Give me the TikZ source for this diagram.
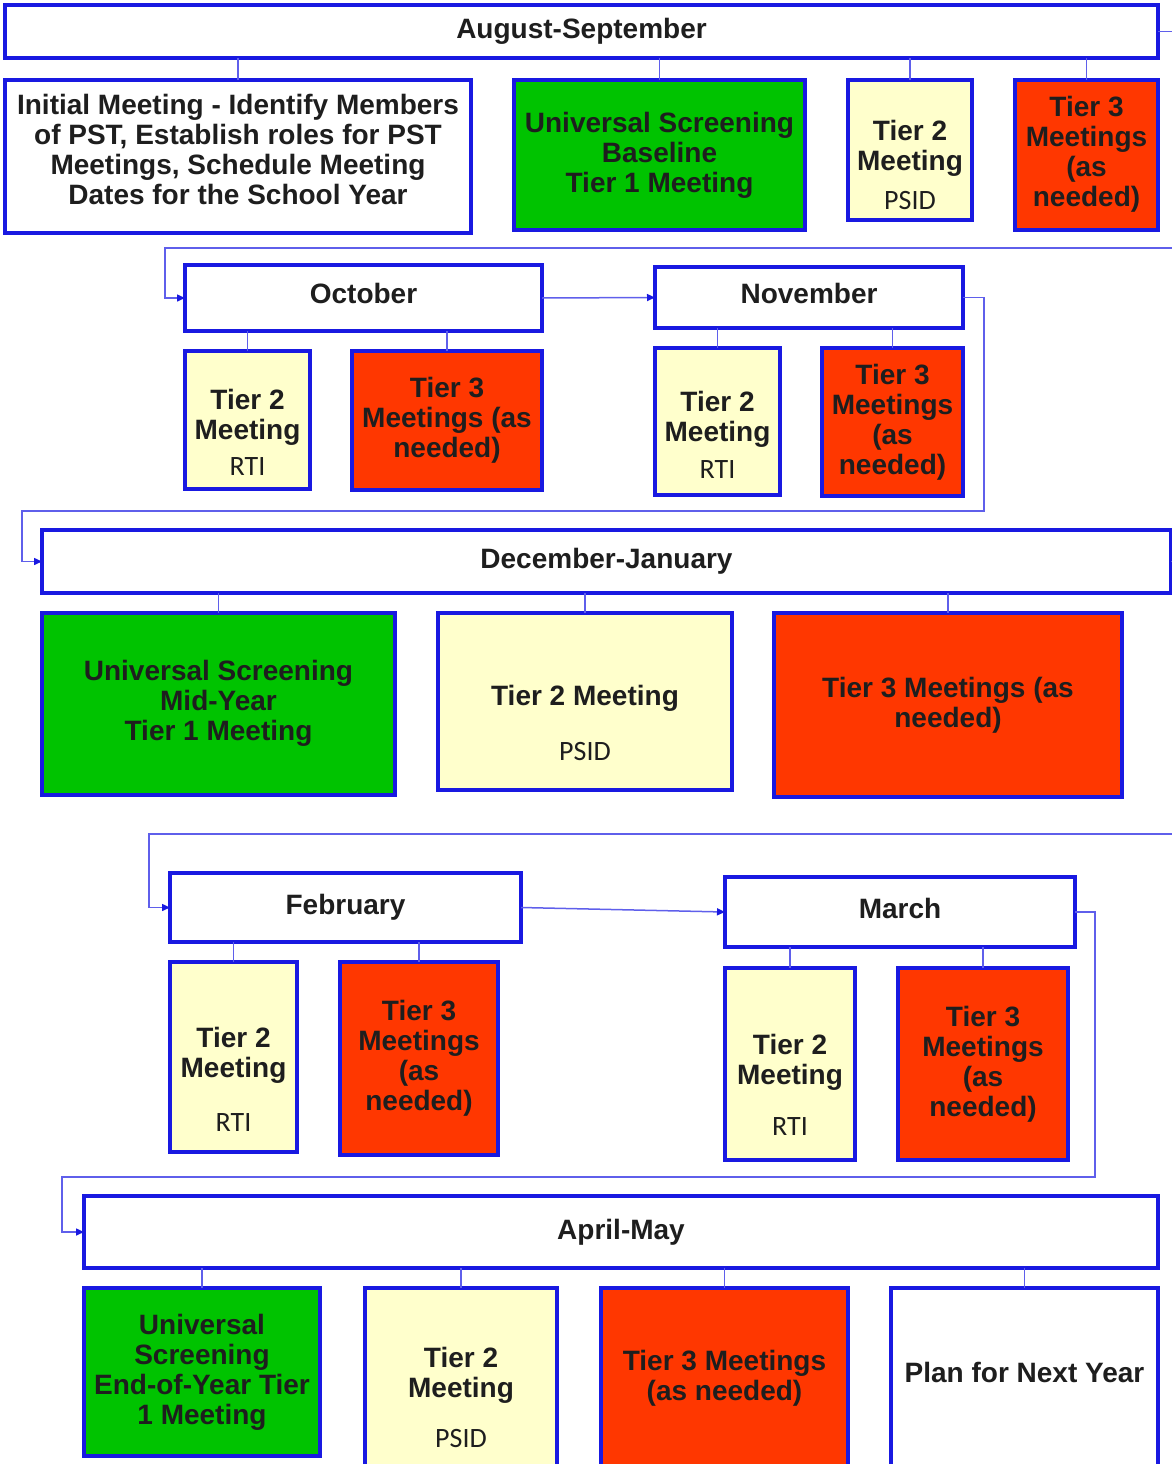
\documentclass[tikz,border=0pt]{standalone}
\usepackage{fontspec}
\setmainfont{Liberation Sans}
\newfontfamily\carlito{Carlito}
\usetikzlibrary{arrows.meta, positioning}

\definecolor{edgeblue}{RGB}{25,25,225}
\definecolor{linkblue}{RGB}{95,95,235}
\definecolor{tiergreen}{RGB}{0,195,0}
\definecolor{tieryellow}{RGB}{255,255,204}
\definecolor{tierred}{RGB}{255,55,0}
\definecolor{inkgray}{RGB}{30,30,30}

\newcommand{\subtag}[1]{{\carlito\mdseries #1}}
% invisible struts to move a block of text down (top) or up (bottom)
\newcommand{\topgap}[1]{\rule{0pt}{#1}}
\newcommand{\botgap}[1]{\rule[-#1]{0pt}{0pt}}

\begin{document}
\begin{tikzpicture}[
        x=1pt, y=-1pt,
        every node/.style={font=\bfseries\fontsize{28}{30}\selectfont, text=inkgray},
        box/.style={rectangle, draw=edgeblue, line width=3.5pt, fill=white, inner sep=4pt, outer sep=0pt, align=center, anchor=north west},
        month/.style={box},
        tierone/.style={box, fill=tiergreen},
        tiertwo/.style={box, fill=tieryellow},
        tierthree/.style={box, fill=tierred},
        size/.style 2 args={minimum width=#1pt, minimum height=#2pt},
        tie/.style={draw=linkblue, line width=1.5pt},
        arrow/.style={-{Triangle[length=8pt, width=7pt, color=edgeblue]}, draw=linkblue, line width=1.5pt}
    ]
        \useasboundingbox (0,0) rectangle (1172,1464);

        % August-September
        \node[month, size={1153}{53}] (aug) at (5,5) {August-September\botgap{4pt}};
        \node[box, size={466}{153}, below right=22pt and 0pt of aug.south west] (init) {Initial Meeting - Identify Members\\of PST, Establish roles for PST\\Meetings, Schedule Meeting\\Dates for the School Year\botgap{14pt}};
        \node[tierone, size={291}{150}, below right=0pt and 43pt of init.north east] (augone) {Universal Screening\\Baseline\\Tier 1 Meeting\botgap{6pt}};
        \node[tiertwo, size={124}{140}, below right=0pt and 43pt of augone.north east] (augtwo) {\topgap{50pt}Tier 2\\Meeting\\[9pt]\subtag{PSID}};
        \node[tierthree, size={143}{150}, below right=0pt and 43pt of augtwo.north east] (augthree) {Tier 3\\Meetings\\(as\\needed)\botgap{8pt}};
        \foreach \c in {init, augone, augtwo, augthree}
            \draw[tie] (\c.north) -- (\c.north |- aug.south);

        % October and November
        \node[month, size={357}{66}] (oct) at (185,265) {October\botgap{10pt}};
        \node[month, size={308}{61}] (nov) at (655,267) {November\botgap{8pt}};
        \node[tiertwo, size={125}{138}, below right=20pt and 0pt of oct.south west] (octtwo) {\topgap{44pt}Tier 2\\Meeting\\[6pt]\subtag{RTI}};
        \node[tierthree, size={190}{139}, below right=0pt and 42pt of octtwo.north east] (octthree) {Tier 3\\Meetings (as\\needed)\botgap{4pt}};
        \node[tiertwo, size={125}{147}, below right=20pt and 0pt of nov.south west] (novtwo) {\topgap{46pt}Tier 2\\Meeting\\[7pt]\subtag{RTI}};
        \node[tierthree, size={141}{148}, below right=0pt and 42pt of novtwo.north east] (novthree) {Tier 3\\Meetings\\(as\\needed)\botgap{6pt}};
        \foreach \c in {octtwo, octthree}
            \draw[tie] (\c.north) -- (\c.north |- oct.south);
        \foreach \c in {novtwo, novthree}
            \draw[tie] (\c.north) -- (\c.north |- nov.south);

        % December-January
        \node[month, size={1129}{63}] (dec) at (42,530) {December-January};
        \node[tierone, size={353}{182}, below right=20pt and 0pt of dec.south west] (decone) {Universal Screening\\Mid-Year\\Tier 1 Meeting\botgap{8pt}};
        \node[tiertwo, size={294}{177}, below right=0pt and 43pt of decone.north east] (dectwo) {\topgap{64pt}Tier 2 Meeting\\[25pt]\subtag{PSID}};
        \node[tierthree, size={348}{184}, below right=0pt and 42pt of dectwo.north east] (decthree) {Tier 3 Meetings (as\\needed)\botgap{6pt}};
        \foreach \c in {decone, dectwo, decthree}
            \draw[tie] (\c.north) -- (\c.north |- dec.south);

        % February and March
        \node[month, size={351}{69}] (feb) at (170,873) {February};
        \node[month, size={350}{70}] (mar) at (725,877) {March\botgap{8pt}};
        \node[tiertwo, size={127}{190}, below right=20pt and 0pt of feb.south west] (febtwo) {\topgap{64pt}Tier 2\\Meeting\\[24pt]\subtag{RTI}};
        \node[tierthree, size={158}{193}, below right=0pt and 43pt of febtwo.north east] (febthree) {Tier 3\\Meetings\\(as\\needed)\botgap{4pt}};
        \node[tiertwo, size={130}{192}, below right=21pt and 0pt of mar.south west] (martwo) {\topgap{62pt}Tier 2\\Meeting\\[21pt]\subtag{RTI}};
        \node[tierthree, size={170}{192}, below right=0pt and 43pt of martwo.north east] (marthree) {Tier 3\\Meetings\\(as\\needed)\botgap{6pt}};
        \foreach \c in {febtwo, febthree}
            \draw[tie] (\c.north) -- (\c.north |- feb.south);
        \foreach \c in {martwo, marthree}
            \draw[tie] (\c.north) -- (\c.north |- mar.south);

        % April-May
        \node[month, size={1074}{72}] (apr) at (84,1196) {April-May};
        \node[tierone, size={236}{168}, below right=20pt and 0pt of apr.south west] (aprone) {Universal\\Screening\\End-of-Year Tier\\1 Meeting\botgap{6pt}};
        \node[tiertwo, size={192}{205}, below right=0pt and 45pt of aprone.north east] (aprtwo) {\topgap{34pt}Tier 2\\Meeting\\[20pt]\subtag{PSID}};
        \node[tierthree, size={247}{185}, below right=0pt and 44pt of aprtwo.north east] (aprthree) {Tier 3 Meetings\\(as needed)\botgap{10pt}};
        \node[box, size={267}{185}, below right=0pt and 43pt of aprthree.north east] (plan) {Plan for Next Year\botgap{16pt}};
        \foreach \c in {aprone, aprtwo, aprthree, plan}
            \draw[tie] (\c.north) -- (\c.north |- apr.south);

        % flow from month to month
        \coordinate (turnA) at (165,248);
        \coordinate (turnB) at (22,511);
        \coordinate (turnC) at (149,834);
        \coordinate (turnD) at (62,1177);
        \draw[arrow] (aug.east) -- ++(30,0) |- (turnA) |- (oct.west);
        \draw[arrow] (oct.east) -- (nov.west);
        \draw[arrow] (nov.east) -- ++(21,0) |- (turnB) |- (dec.west);
        \draw[arrow] (dec.east) -- ++(20,0) |- (turnC) |- (feb.west);
        \draw[arrow] (feb.east) -- (mar.west);
        \draw[arrow] (mar.east) -- ++(20,0) |- (turnD) |- (apr.west);
    \end{tikzpicture}
\end{document}
